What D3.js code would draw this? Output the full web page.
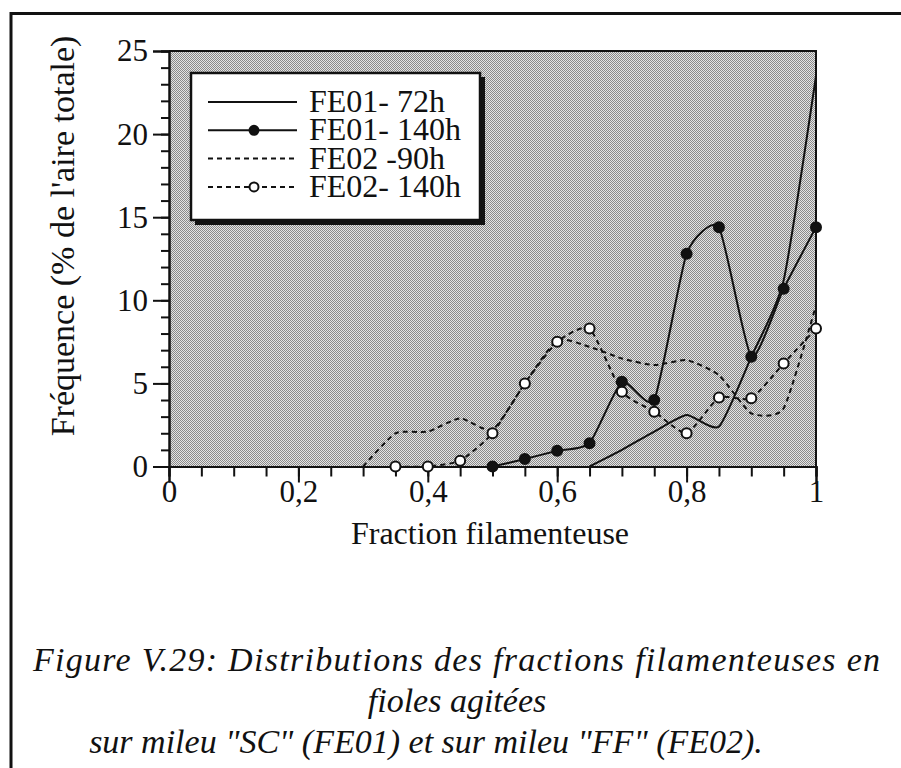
<!DOCTYPE html>
<html>
<head>
<meta charset="utf-8">
<script src="https://cdn.jsdelivr.net/npm/d3@7"></script>
<style>
  html, body { margin: 0; padding: 0; background: #fff; }
  svg { display: block; }
  text { font-family: "Liberation Serif", "Times New Roman", serif; fill: #111; }
</style>
</head>
<body>
<svg id="chart" width="901" height="768"></svg>
<script>
// Fraction filamenteuse (x) and frequency, % of total area (y), per culture
const fractions72 = [0.65, 0.70, 0.75, 0.80, 0.85, 0.90, 0.95, 1.00];
const fe01_72h    = [0,    1.0,  2.1,  3.1,  2.4,  6.6,  11.2, 23.5];

const fractions140 = [0.50, 0.55, 0.60, 0.65, 0.70, 0.75, 0.80, 0.85, 0.90, 0.95, 1.00];
const fe01_140h    = [0,    0.45, 0.95, 1.4,  5.1,  4.0,  12.8, 14.4, 6.6,  10.7, 14.4];

const fractions90 = [0.30, 0.35, 0.40, 0.45, 0.50, 0.55, 0.60, 0.65, 0.70, 0.75, 0.80, 0.85, 0.90, 0.95, 1.00];
const fe02_90h    = [0,    2.0,  2.1,  2.9,  2.2,  5.0,  7.6,  7.2,  6.5,  6.1,  6.4,  5.5,  3.2,  3.5,  9.7];

const fractions02_140 = [0.35, 0.40, 0.45, 0.50, 0.55, 0.60, 0.65, 0.70, 0.75, 0.80, 0.85, 0.90, 0.95, 1.00];
const fe02_140h       = [0,    0,    0.35, 2.0,  5.0,  7.5,  8.3,  4.5,  3.3,  2.0,  4.15, 4.1,  6.2,  8.3];

const seriesNames = ["FE01- 72h", "FE01- 140h", "FE02 -90h", "FE02- 140h"];

const xMajorTicks = [0, 0.2, 0.4, 0.6, 0.8, 1];
const yMajorTicks = [0, 5, 10, 15, 20, 25];

const xTitle = "Fraction filamenteuse";
const yTitle = "Fréquence (% de l'aire totale)";
const captionLines = [
  "Figure V.29: Distributions des fractions filamenteuses en",
  "fioles agitées",
  "sur mileu \"SC\" (FE01) et sur mileu \"FF\" (FE02)."
];

const svg = d3.select("#chart");

// page frame
svg.append("path")
  .attr("d", "M11,768 V13.5 H901")
  .attr("fill", "none").attr("stroke", "#111").attr("stroke-width", 3);

// dithered grey fill of the plotting area
const defs = svg.append("defs");
const pat = defs.append("pattern").attr("id", "dither")
  .attr("width", 2).attr("height", 2).attr("patternUnits", "userSpaceOnUse");
pat.append("rect").attr("width", 2).attr("height", 2).attr("fill", "#e4e4e4");
pat.append("rect").attr("x", 0).attr("y", 0).attr("width", 1).attr("height", 1).attr("fill", "#8a8a8a");
pat.append("rect").attr("x", 1).attr("y", 1).attr("width", 1).attr("height", 1).attr("fill", "#8a8a8a");

const L = 169, R = 816, T = 51, B = 466.5;
const x = d3.scaleLinear().domain([0, 1]).range([L, R]);
const y = d3.scaleLinear().domain([0, 25]).range([B, T]);

defs.append("clipPath").attr("id", "plotclip")
  .append("rect").attr("x", L).attr("y", T).attr("width", R - L).attr("height", B - T);

svg.append("rect").attr("x", L).attr("y", T).attr("width", R - L).attr("height", B - T)
  .attr("fill", "url(#dither)");

// top and right borders of the plot
svg.append("path").attr("d", `M${L},${T} H${R} V${B}`)
  .attr("fill", "none").attr("stroke", "#111").attr("stroke-width", 2);

// axes: minor ticks and labelled major ticks
const fmt = d => d === 0 ? "0" : (d === 1 ? "1" : d3.format(".1f")(d).replace(".", ","));

function styleAxis(g) {
  g.attr("font-family", null).attr("font-size", null);
  g.select(".domain").attr("stroke", "#111").attr("stroke-width", 2);
  g.selectAll(".tick line").attr("stroke", "#111").attr("stroke-width", 2);
  g.selectAll("text").style("font-family", "'Liberation Serif', serif").style("font-size", "31px").attr("fill", "#111");
}

svg.append("g").attr("transform", `translate(0,${B})`)
  .call(d3.axisBottom(x).tickValues(d3.range(0, 21).map(i => i / 20)).tickSize(10).tickFormat(""))
  .call(styleAxis);
svg.append("g").attr("transform", `translate(0,${B})`)
  .call(d3.axisBottom(x).tickValues(xMajorTicks).tickSize(16).tickPadding(-3).tickFormat(fmt))
  .call(styleAxis);

svg.append("g").attr("transform", `translate(${L},0)`)
  .call(d3.axisLeft(y).tickValues(d3.range(0, 26)).tickSize(8).tickFormat(""))
  .call(styleAxis);
svg.append("g").attr("transform", `translate(${L},0)`)
  .call(d3.axisLeft(y).tickValues(yMajorTicks).tickSize(16).tickPadding(5).tickFormat(d3.format("d")))
  .call(styleAxis);

// axis titles
svg.append("text").attr("x", 490).attr("y", 544)
  .attr("text-anchor", "middle").style("font-size", "32px")
  .text(xTitle);
svg.append("text").attr("transform", `translate(74,236) rotate(-90)`)
  .attr("text-anchor", "middle").style("font-size", "34px")
  .text(yTitle);

// series
const plot = svg.append("g").attr("clip-path", "url(#plotclip)");
const curve = d3.curveCardinal.tension(0.45);
const lineGen = d3.line().x(d => x(d[0])).y(d => y(d[1])).curve(curve);

const series = [
  { name: seriesNames[0], xs: fractions72, ys: fe01_72h, dash: null, marker: null },
  { name: seriesNames[1], xs: fractions140, ys: fe01_140h, dash: null, marker: "filled" },
  { name: seriesNames[2], xs: fractions90, ys: fe02_90h, dash: "5,4", marker: null },
  { name: seriesNames[3], xs: fractions02_140, ys: fe02_140h, dash: "5,4", marker: "open" }
];

series.forEach(s => {
  const pts = s.xs.map((v, i) => [v, s.ys[i]]);
  plot.append("path").datum(pts).attr("d", lineGen)
    .attr("fill", "none").attr("stroke", "#111").attr("stroke-width", 2)
    .attr("stroke-dasharray", s.dash);
});
series.forEach(s => {
  if (!s.marker) return;
  const pts = s.xs.map((v, i) => [v, s.ys[i]]);
  svg.append("g").selectAll("circle").data(pts).join("circle")
    .attr("cx", d => x(d[0])).attr("cy", d => y(d[1])).attr("r", 5)
    .attr("fill", s.marker === "filled" ? "#111" : "#fff")
    .attr("stroke", "#111").attr("stroke-width", 2);
});

// legend
const lg = svg.append("g");
lg.append("rect").attr("x", 195).attr("y", 77).attr("width", 290).attr("height", 148).attr("fill", "#111");
lg.append("rect").attr("x", 191).attr("y", 73).attr("width", 289).attr("height", 147)
  .attr("fill", "#fff").attr("stroke", "#111").attr("stroke-width", 2.5);
series.forEach((s, i) => {
  const cy = 102 + i * 28.3;
  lg.append("line").attr("x1", 208).attr("x2", 297).attr("y1", cy).attr("y2", cy)
    .attr("stroke", "#111").attr("stroke-width", 2).attr("stroke-dasharray", s.dash);
  if (s.marker) {
    lg.append("circle").attr("cx", 254).attr("cy", cy).attr("r", 4.5)
      .attr("fill", s.marker === "filled" ? "#111" : "#fff").attr("stroke", "#111").attr("stroke-width", 2);
  }
  lg.append("text").attr("x", 309).attr("y", cy + 10)
    .style("font-size", "32px").text(s.name);
});

// caption
const cap = svg.append("g").style("font-style", "italic").style("font-size", "34px");
cap.append("text").attr("x", 33).attr("y", 671)
  .attr("textLength", 847).attr("lengthAdjust", "spacing")
  .text(captionLines[0]);
cap.append("text").attr("x", 457).attr("y", 712).attr("text-anchor", "middle")
  .text(captionLines[1]);
cap.append("text").attr("x", 426).attr("y", 753).attr("text-anchor", "middle")
  .text(captionLines[2]);
</script>
</body>
</html>
